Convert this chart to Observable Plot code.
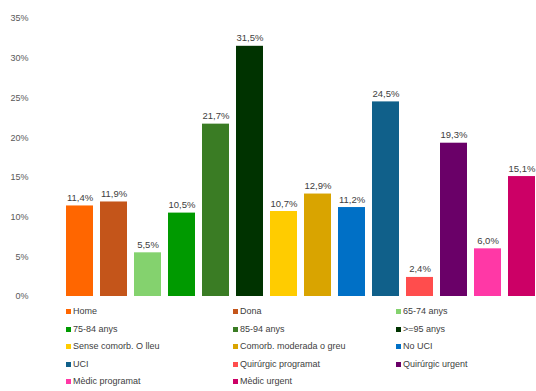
<!DOCTYPE html>
<html>
<head>
<meta charset="utf-8">
<script src="https://cdn.jsdelivr.net/npm/d3@7"></script>
<script src="https://cdn.jsdelivr.net/npm/@observablehq/plot@0.6"></script>
<style>
  html, body { margin: 0; padding: 0; background: #fff; }
  body { width: 536px; height: 391px; overflow: hidden; font-family: "Liberation Sans", Arial, sans-serif; }
  #legend {
    display: grid;
    grid-template-columns: 167px 163px 140px;
    padding-left: 66px;
    padding-top: 3px;
    font-size: 9px;
    color: #404040;
  }
  #legend .item { height: 17.6px; line-height: 17.6px; white-space: nowrap; }
  #legend .sw { display: inline-block; width: 5px; height: 5px; margin-right: 2px; vertical-align: 0px; }
</style>
</head>
<body>
<div id="chart"></div>
<div id="legend"></div>
<script>
const categories = [
  "Home", "Dona", "65-74 anys", "75-84 anys", "85-94 anys", ">=95 anys",
  "Sense comorb. O lleu", "Comorb. moderada o greu", "No UCI", "UCI",
  "Quirúrgic programat", "Quirúrgic urgent", "Mèdic programat", "Mèdic urgent"
];
const values = [11.4, 11.9, 5.5, 10.5, 21.7, 31.5, 10.7, 12.9, 11.2, 24.5, 2.4, 19.3, 6.0, 15.1];
const colors = [
  "#FF6600", "#C4551A", "#84D26E", "#009A00", "#3A7C24", "#003300",
  "#FFCC00", "#D9A400", "#0070C6", "#10608A",
  "#FF4D4D", "#6A0068", "#FF38A6", "#CC0066"
];
const yTicks = [0, 5, 10, 15, 20, 25, 30, 35];

const data = categories.map((c, i) => ({ cat: c, value: values[i], color: colors[i] }));
const fmt = v => v.toFixed(1).replace(".", ",") + "%";

const chart = Plot.plot({
  width: 536,
  height: 300,
  marginLeft: 65,
  marginRight: 0,
  marginTop: 18,
  marginBottom: 4,
  style: { fontFamily: "Liberation Sans, Arial, sans-serif", fontSize: "9px", color: "#595959", background: "#fff" },
  x: { domain: categories, padding: 0.2, paddingOuter: 0, axis: null },
  y: { domain: [0, 35], axis: null },
  color: { type: "identity" },
  marks: [
    Plot.axisY({ ticks: yTicks, tickSize: 0, tickPadding: 37, tickFormat: d => d + "%", fill: "#595959", fontSize: 9, label: null }),
    Plot.barY(data, { x: "cat", y: "value", fill: "color" }),
    Plot.text(data, { x: "cat", y: "value", text: d => fmt(d.value), dy: -8, fill: "#404040", fontSize: 9.5 })
  ]
});
document.getElementById("chart").appendChild(chart);

const legend = document.getElementById("legend");
data.forEach(d => {
  const item = document.createElement("div");
  item.className = "item";
  const sw = document.createElement("span");
  sw.className = "sw";
  sw.style.background = d.color;
  item.appendChild(sw);
  item.appendChild(document.createTextNode(d.cat));
  legend.appendChild(item);
});
</script>
</body>
</html>
